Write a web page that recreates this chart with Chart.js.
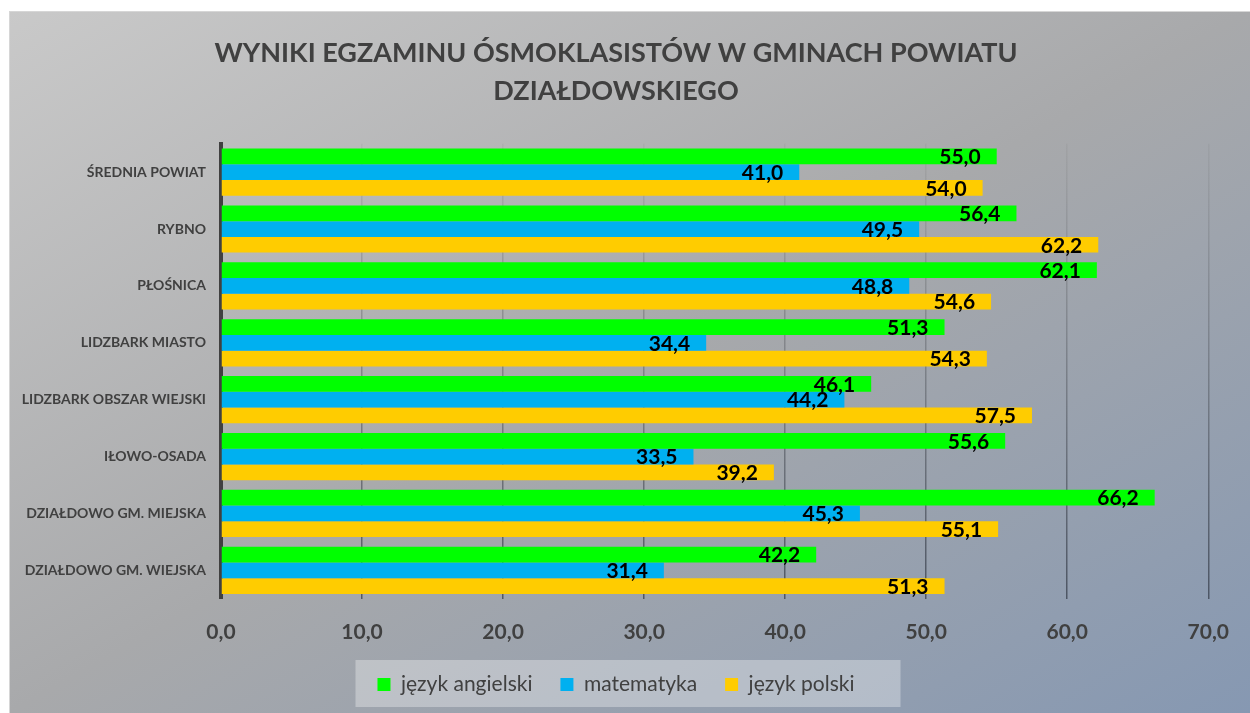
<!DOCTYPE html>
<html lang="pl">
<head>
  <meta charset="utf-8">
  <title>Wyniki egzaminu ósmoklasistów</title>
  <script src="https://cdn.jsdelivr.net/npm/chart.js"></script>
  <style>
    body {
      margin: 0;
      background: white;
    }
    #box {
      position: absolute;
      left: 9px;
      top: 11px;
      width: 1241px;
      height: 702px;
      background: linear-gradient(to bottom right, #c9c9c9 0%, #a8a9ab 50%, #8698b2 100%);
      box-shadow: inset 1px 1px 0 #d6d6d6;
    }
  </style>
</head>
<body>
<div id="box">
  <canvas id="wyniki"></canvas>
</div>

<script>
  const gminy = [
    'ŚREDNIA POWIAT',
    'RYBNO',
    'PŁOŚNICA',
    'LIDZBARK MIASTO',
    'LIDZBARK OBSZAR WIEJSKI',
    'IŁOWO-OSADA',
    'DZIAŁDOWO GM. MIEJSKA',
    'DZIAŁDOWO GM. WIEJSKA'
  ];
  const angielski = [55.0, 56.4, 62.1, 51.3, 46.1, 55.6, 66.2, 42.2];
  const matematyka = [41.0, 49.5, 48.8, 34.4, 44.2, 33.5, 45.3, 31.4];
  const polski = [54.0, 62.2, 54.6, 54.3, 57.5, 39.2, 55.1, 51.3];
  const tytul = ['WYNIKI EGZAMINU ÓSMOKLASISTÓW W GMINACH POWIATU', 'DZIAŁDOWSKIEGO'];

  const fmt = v => Number(v).toFixed(1).replace('.', ',');

  // etykiety wartości przy końcu słupka
  const etykiety = {
    id: 'etykiety',
    afterDatasetsDraw(chart) {
      const ctx = chart.ctx;
      ctx.save();
      ctx.font = 'bold 21px Lato';
      ctx.fillStyle = '#000';
      ctx.textAlign = 'right';
      ctx.textBaseline = 'middle';
      chart.data.datasets.forEach((ds, i) => {
        chart.getDatasetMeta(i).data.forEach((bar, j) => {
          ctx.fillText(fmt(ds.data[j]), bar.x - 16, bar.y + 1);
        });
      });
      ctx.restore();
    }
  };

  // jasne tło pod legendą
  const tloLegendy = {
    id: 'tloLegendy',
    beforeDraw(chart) {
      const boxes = chart.legend && chart.legend.legendHitBoxes;
      if (!boxes || !boxes.length) return;
      const first = boxes[0], last = boxes[boxes.length - 1];
      const ctx = chart.ctx;
      ctx.save();
      ctx.fillStyle = 'rgba(255,255,255,0.32)';
      ctx.fillRect(first.left - 22, first.top - 14, last.left + last.width - first.left + 68, 47);
      ctx.restore();
    }
  };

  const ctx = document.getElementById('wyniki').getContext('2d');
  new Chart(ctx, {
    type: 'bar',
    data: {
      labels: gminy,
      datasets: [
        { label: 'język angielski', data: angielski, backgroundColor: '#00ff00' },
        { label: 'matematyka', data: matematyka, backgroundColor: '#00b0f0' },
        { label: 'język polski', data: polski, backgroundColor: '#ffcc00' }
      ]
    },
    options: {
      indexAxis: 'y',
      responsive: true,
      maintainAspectRatio: false,
      animation: false,
      datasets: {
        bar: { categoryPercentage: 0.83, barPercentage: 1 }
      },
      layout: { padding: { left: 12, right: 39, top: 0, bottom: 8 } },
      plugins: {
        title: {
          display: true,
          text: tytul,
          color: '#404040',
          font: { family: 'Lato', size: 27, weight: 'bold', lineHeight: 1.42 },
          padding: { top: 23, bottom: 33 }
        },
        legend: {
          position: 'bottom',
          labels: {
            color: '#404040',
            font: { family: 'Lato', size: 21 },
            boxWidth: 13,
            boxHeight: 13,
            padding: 28
          }
        },
        tooltip: { enabled: false }
      },
      scales: {
        x: {
          min: 0,
          max: 70,
          ticks: {
            stepSize: 10,
            color: '#404040',
            font: { family: 'Lato', size: 21, weight: 'bold' },
            padding: 21,
            callback: v => fmt(v)
          },
          grid: {
            drawTicks: false,
            lineWidth: 1.5,
            color: c => {
              const area = c.chart.chartArea;
              if (!area) return 'rgba(80,80,80,0.3)';
              const g = c.chart.ctx.createLinearGradient(0, area.top, 0, area.bottom);
              g.addColorStop(0, 'rgba(90,90,90,0.08)');
              g.addColorStop(1, 'rgba(55,62,75,0.75)');
              return g;
            }
          },
          border: { display: false },
          afterFit: s => { s.height = s.height - 20; }
        },
        y: {
          ticks: {
            color: '#404040',
            font: { family: 'Lato', size: 14, weight: 'bold' },
            padding: 15
          },
          grid: { display: false, drawTicks: false },
          border: { display: true, color: '#404040', width: 4 },
          afterFit: s => { s.width = 200; }
        }
      }
    },
    plugins: [etykiety, tloLegendy]
  });
</script>
</body>
</html>
